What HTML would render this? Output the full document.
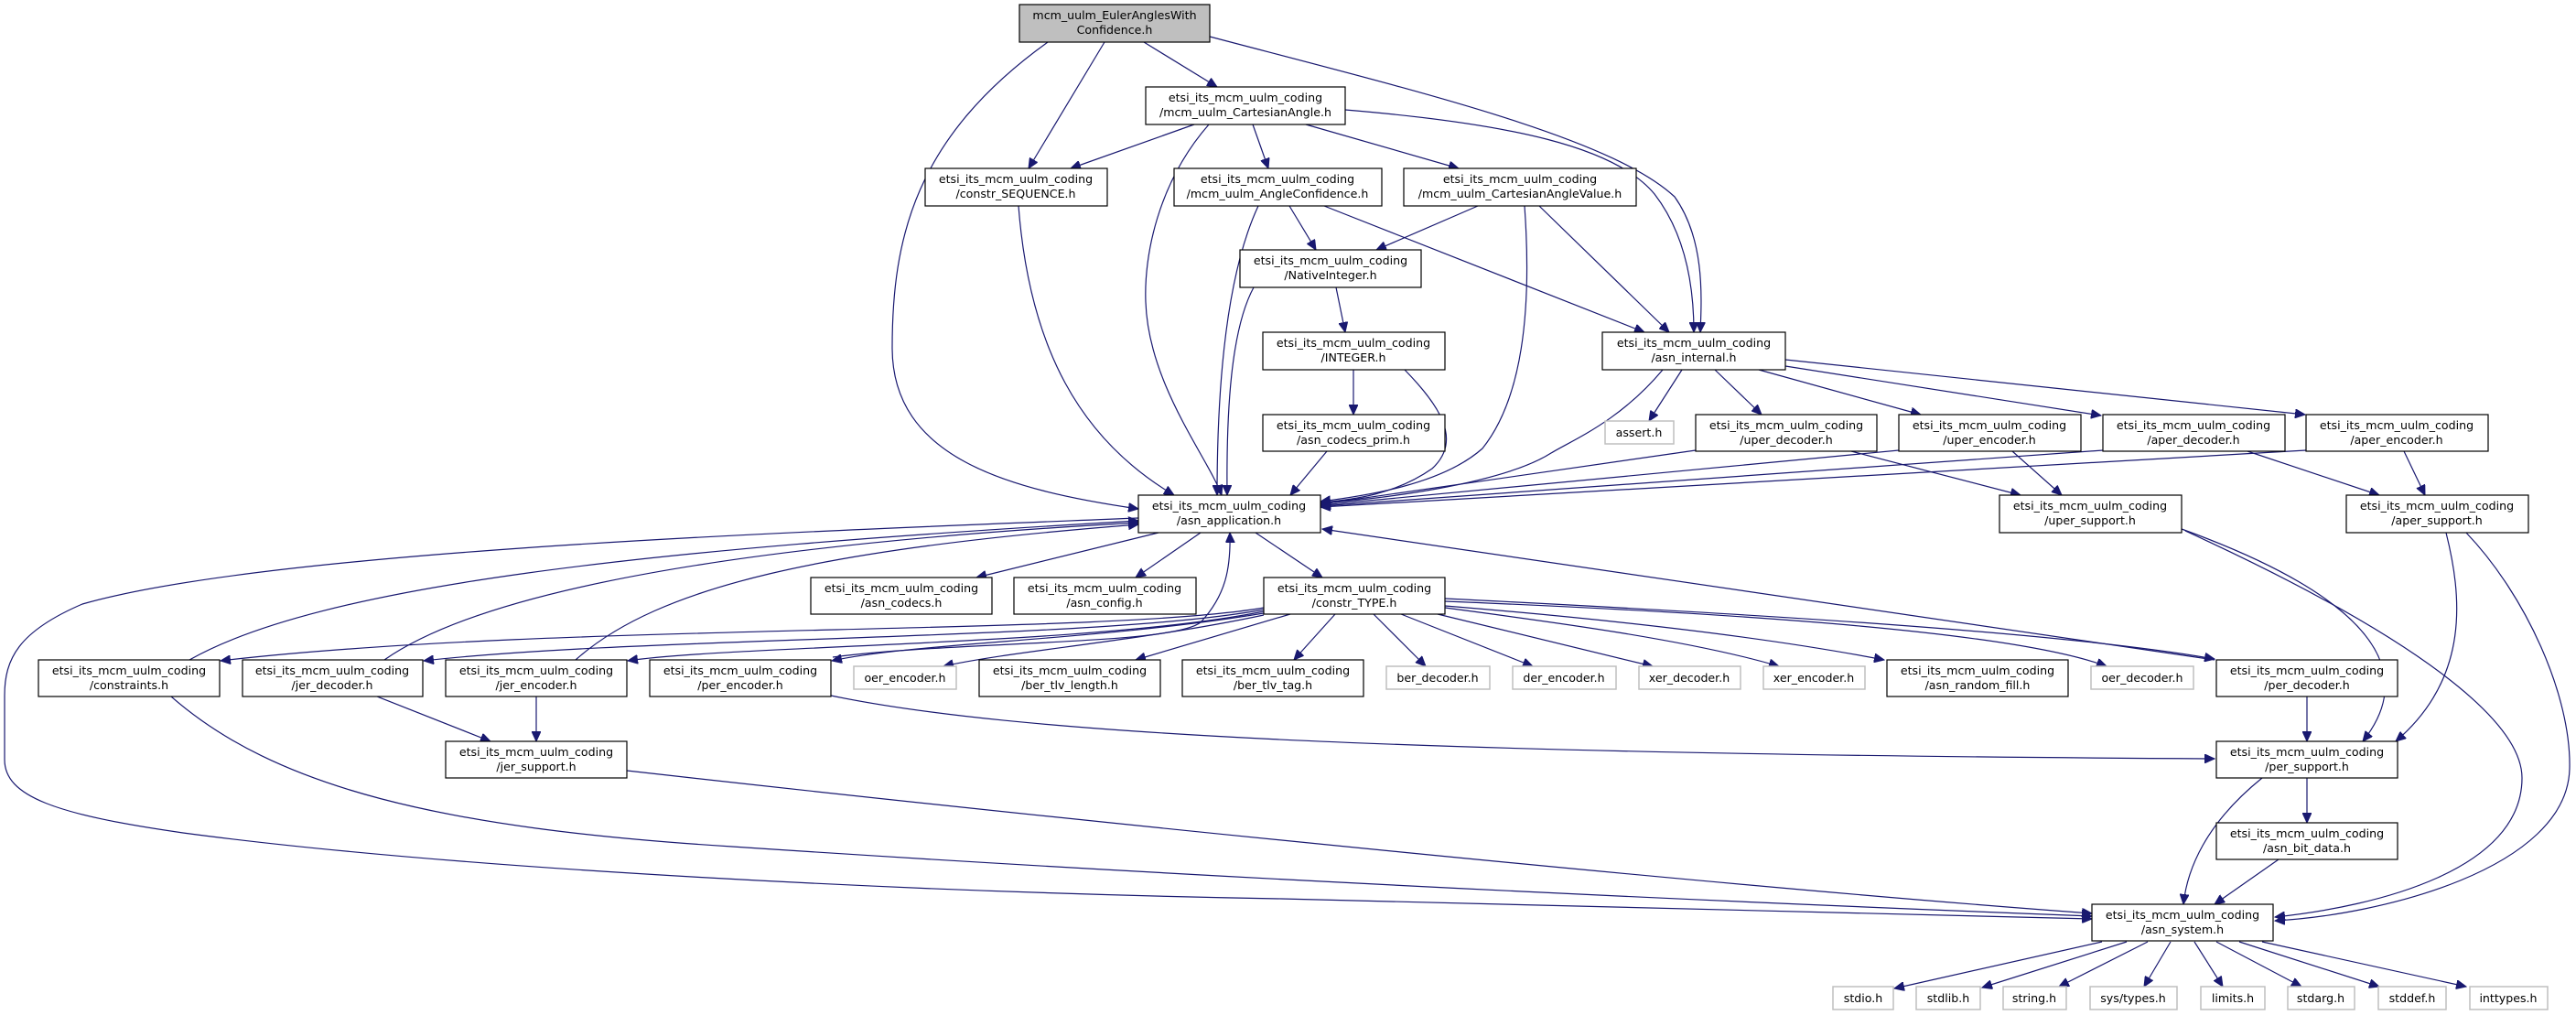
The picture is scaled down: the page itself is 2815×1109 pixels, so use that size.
<!DOCTYPE html>
<html><head><meta charset="utf-8"><style>
html,body{margin:0;padding:0;background:#fff;}
svg{display:block;}
text{font-family:"DejaVu Sans","Liberation Sans",sans-serif;font-size:12.6px;fill:#000;text-anchor:middle;}
.n{fill:#fff;stroke:#000;stroke-width:1.2;}
.g{fill:#fff;stroke:#bfbfbf;stroke-width:1.5;}
.e{fill:none;stroke:#191970;stroke-width:1.2;marker-end:url(#a);}
</style></head><body>
<svg width="2815" height="1109" viewBox="0 0 2815 1109" xmlns="http://www.w3.org/2000/svg">
<defs><marker id="a" markerUnits="userSpaceOnUse" markerWidth="12" markerHeight="10" refX="11" refY="5" orient="auto"><path d="M0,0 L11,5 L0,10 z" fill="#191970" stroke="#191970"/></marker></defs>

<g>
<path class="e" d="M1145,46 C1000,150 975,260 975,380 C975,500 1100,535 1244,556"/>
<path class="e" d="M1207,46 L1124,184"/>
<path class="e" d="M1250,46 L1330,95"/>
<path class="e" d="M1322,40 C1550,100 1760,150 1830,215 C1862,260 1860,320 1858,363"/>
<path class="e" d="M1305,136 L1170,184"/>
<path class="e" d="M1321,136 C1265,200 1250,280 1252,330 C1255,420 1320,500 1335,541"/>
<path class="e" d="M1369,136 L1386,184"/>
<path class="e" d="M1427,136 L1594,184"/>
<path class="e" d="M1470,120 C1650,135 1765,160 1808,212 C1845,260 1851,320 1851,363"/>
<path class="e" d="M1113,225 C1125,380 1180,480 1283,541"/>
<path class="e" d="M1375,225 C1340,300 1330,420 1330,541"/>
<path class="e" d="M1409,225 L1438,273"/>
<path class="e" d="M1447,225 L1797,363"/>
<path class="e" d="M1615,225 L1504,273"/>
<path class="e" d="M1666,225 C1675,350 1660,440 1620,490 C1575,530 1490,542 1443,548"/>
<path class="e" d="M1682,225 L1824,363"/>
<path class="e" d="M1370,314 C1345,360 1340,450 1341,541"/>
<path class="e" d="M1460,314 L1470,363"/>
<path class="e" d="M1479,404 L1479,453"/>
<path class="e" d="M1535,404 C1570,440 1600,480 1565,512 C1525,540 1480,546 1443,549"/>
<path class="e" d="M1450,493 L1410,541"/>
<path class="e" d="M1817,404 C1770,460 1720,480 1695,495 C1640,530 1500,546 1443,550"/>
<path class="e" d="M1838,404 L1802,460"/>
<path class="e" d="M1874,404 L1925,453"/>
<path class="e" d="M1922,404 L2099,453"/>
<path class="e" d="M1951,400 L2296,454"/>
<path class="e" d="M1951,393 L2519,453"/>
<path class="e" d="M1853,492 L1443,551"/>
<path class="e" d="M2023,493 L2208,541"/>
<path class="e" d="M2075,492 L1443,552"/>
<path class="e" d="M2199,493 L2253,541"/>
<path class="e" d="M2298,492 L1443,553"/>
<path class="e" d="M2456,493 L2600,541"/>
<path class="e" d="M2520,492 L1443,554"/>
<path class="e" d="M2627,493 L2650,541"/>
<path class="e" d="M1266,582 L1067,631"/>
<path class="e" d="M1312,582 L1241,631"/>
<path class="e" d="M1372,582 L1445,631"/>
<path class="e" d="M1244,566 C900,580 300,600 90,660 C20,690 5,720 5,760 L5,830 C5,870 60,890 200,910 C500,950 1000,975 1400,982 C1800,990 2100,998 2286,1004"/>
<path class="e" d="M207,721 C350,640 700,600 1244,569"/>
<path class="e" d="M420,721 C550,630 900,590 1244,571"/>
<path class="e" d="M629,721 C720,640 900,600 1244,573"/>
<path class="e" d="M910,718 C1050,700 1280,705 1312,680 C1340,650 1345,620 1344,582"/>
<path class="e" d="M1381,664 C1200,695 600,680 241,722"/>
<path class="e" d="M1381,666 C1200,700 700,695 463,722"/>
<path class="e" d="M1381,668 C1200,705 800,705 686,722"/>
<path class="e" d="M1381,670 C1200,700 1000,702 909,722"/>
<path class="e" d="M1381,672 C1250,700 1100,712 1031,728"/>
<path class="e" d="M1410,671 L1241,721"/>
<path class="e" d="M1459,671 L1414,721"/>
<path class="e" d="M1501,671 L1558,728"/>
<path class="e" d="M1531,671 L1675,728"/>
<path class="e" d="M1571,671 L1806,728"/>
<path class="e" d="M1579,664 C1700,680 1850,700 1944,728"/>
<path class="e" d="M1579,662 C1800,680 1950,700 2059,721"/>
<path class="e" d="M1579,657 C1900,670 2200,690 2302,728"/>
<path class="e" d="M1579,654 C1900,670 2250,690 2420,720"/>
<path class="e" d="M2420,721 L1445,578"/>
<path class="e" d="M2521,761 L2521,810"/>
<path class="e" d="M908,760 C1100,800 1500,824 2420,829"/>
<path class="e" d="M2384,578 C2500,620 2670,700 2582,810"/>
<path class="e" d="M2388,580 C2650,700 2756,790 2756,850 C2756,950 2600,990 2486,1002"/>
<path class="e" d="M2673,582 C2690,650 2700,740 2618,810"/>
<path class="e" d="M2695,582 C2760,650 2810,760 2808,840 C2805,950 2600,1000 2486,1006"/>
<path class="e" d="M2521,850 L2521,899"/>
<path class="e" d="M2472,850 C2410,900 2390,950 2386,988"/>
<path class="e" d="M2490,939 L2420,988"/>
<path class="e" d="M685,842 C1200,900 1900,970 2286,998"/>
<path class="e" d="M187,761 C300,860 480,905 800,925 C1400,965 2000,990 2286,1001"/>
<path class="e" d="M412,761 L536,810"/>
<path class="e" d="M586,761 L586,810"/>
<path class="e" d="M2297,1029 L2070,1080"/>
<path class="e" d="M2324,1029 L2166,1079"/>
<path class="e" d="M2347,1029 L2250,1078"/>
<path class="e" d="M2372,1029 L2343,1078"/>
<path class="e" d="M2398,1029 L2429,1078"/>
<path class="e" d="M2422,1029 L2515,1078"/>
<path class="e" d="M2447,1029 L2600,1078"/>
<path class="e" d="M2472,1029 L2695,1078"/>
</g>

<g>
<rect x="1114" y="5" width="208" height="41" fill="#bfbfbf" stroke="#000" stroke-width="1.2"/>
<text x="1218" y="21">mcm_uulm_EulerAnglesWith</text><text x="1218" y="37">Confidence.h</text>

<rect class="n" x="1252" y="95" width="218" height="41"/><text x="1361" y="111">etsi_its_mcm_uulm_coding</text><text x="1361" y="127">/mcm_uulm_CartesianAngle.h</text>
<rect class="n" x="1011" y="184" width="199" height="41"/><text x="1110" y="200">etsi_its_mcm_uulm_coding</text><text x="1110" y="216">/constr_SEQUENCE.h</text>
<rect class="n" x="1283" y="184" width="227" height="41"/><text x="1396" y="200">etsi_its_mcm_uulm_coding</text><text x="1396" y="216">/mcm_uulm_AngleConfidence.h</text>
<rect class="n" x="1534" y="184" width="254" height="41"/><text x="1661" y="200">etsi_its_mcm_uulm_coding</text><text x="1661" y="216">/mcm_uulm_CartesianAngleValue.h</text>
<rect class="n" x="1355" y="273" width="198" height="41"/><text x="1454" y="289">etsi_its_mcm_uulm_coding</text><text x="1454" y="305">/NativeInteger.h</text>
<rect class="n" x="1380" y="363" width="199" height="41"/><text x="1479" y="379">etsi_its_mcm_uulm_coding</text><text x="1479" y="395">/INTEGER.h</text>
<rect class="n" x="1751" y="363" width="200" height="41"/><text x="1851" y="379">etsi_its_mcm_uulm_coding</text><text x="1851" y="395">/asn_internal.h</text>
<rect class="n" x="1380" y="453" width="199" height="40"/><text x="1479" y="469">etsi_its_mcm_uulm_coding</text><text x="1479" y="485">/asn_codecs_prim.h</text>
<rect class="g" x="1754" y="460" width="75" height="25"/><text x="1791" y="477">assert.h</text>
<rect class="n" x="1853" y="453" width="198" height="40"/><text x="1952" y="469">etsi_its_mcm_uulm_coding</text><text x="1952" y="485">/uper_decoder.h</text>
<rect class="n" x="2075" y="453" width="199" height="40"/><text x="2174" y="469">etsi_its_mcm_uulm_coding</text><text x="2174" y="485">/uper_encoder.h</text>
<rect class="n" x="2298" y="453" width="199" height="40"/><text x="2397" y="469">etsi_its_mcm_uulm_coding</text><text x="2397" y="485">/aper_decoder.h</text>
<rect class="n" x="2520" y="453" width="199" height="40"/><text x="2619" y="469">etsi_its_mcm_uulm_coding</text><text x="2619" y="485">/aper_encoder.h</text>
<rect class="n" x="1244" y="541" width="199" height="41"/><text x="1343" y="557">etsi_its_mcm_uulm_coding</text><text x="1343" y="573">/asn_application.h</text>
<rect class="n" x="2185" y="541" width="199" height="41"/><text x="2284" y="557">etsi_its_mcm_uulm_coding</text><text x="2284" y="573">/uper_support.h</text>
<rect class="n" x="2564" y="541" width="199" height="41"/><text x="2663" y="557">etsi_its_mcm_uulm_coding</text><text x="2663" y="573">/aper_support.h</text>
<rect class="n" x="886" y="631" width="198" height="40"/><text x="985" y="647">etsi_its_mcm_uulm_coding</text><text x="985" y="663">/asn_codecs.h</text>
<rect class="n" x="1108" y="631" width="199" height="40"/><text x="1207" y="647">etsi_its_mcm_uulm_coding</text><text x="1207" y="663">/asn_config.h</text>
<rect class="n" x="1381" y="631" width="198" height="40"/><text x="1480" y="647">etsi_its_mcm_uulm_coding</text><text x="1480" y="663">/constr_TYPE.h</text>
<rect class="n" x="42" y="721" width="198" height="40"/><text x="141" y="737">etsi_its_mcm_uulm_coding</text><text x="141" y="753">/constraints.h</text>
<rect class="n" x="265" y="721" width="197" height="40"/><text x="363" y="737">etsi_its_mcm_uulm_coding</text><text x="363" y="753">/jer_decoder.h</text>
<rect class="n" x="487" y="721" width="198" height="40"/><text x="586" y="737">etsi_its_mcm_uulm_coding</text><text x="586" y="753">/jer_encoder.h</text>
<rect class="n" x="710" y="721" width="198" height="40"/><text x="809" y="737">etsi_its_mcm_uulm_coding</text><text x="809" y="753">/per_encoder.h</text>
<rect class="g" x="933" y="728" width="112" height="25"/><text x="989" y="745">oer_encoder.h</text>
<rect class="n" x="1070" y="721" width="198" height="40"/><text x="1169" y="737">etsi_its_mcm_uulm_coding</text><text x="1169" y="753">/ber_tlv_length.h</text>
<rect class="n" x="1292" y="721" width="198" height="40"/><text x="1391" y="737">etsi_its_mcm_uulm_coding</text><text x="1391" y="753">/ber_tlv_tag.h</text>
<rect class="g" x="1515" y="728" width="113" height="25"/><text x="1571" y="745">ber_decoder.h</text>
<rect class="g" x="1653" y="728" width="113" height="25"/><text x="1709" y="745">der_encoder.h</text>
<rect class="g" x="1791" y="728" width="111" height="25"/><text x="1846" y="745">xer_decoder.h</text>
<rect class="g" x="1927" y="728" width="111" height="25"/><text x="1982" y="745">xer_encoder.h</text>
<rect class="n" x="2062" y="721" width="198" height="40"/><text x="2161" y="737">etsi_its_mcm_uulm_coding</text><text x="2161" y="753">/asn_random_fill.h</text>
<rect class="g" x="2285" y="728" width="112" height="25"/><text x="2341" y="745">oer_decoder.h</text>
<rect class="n" x="2422" y="721" width="198" height="40"/><text x="2521" y="737">etsi_its_mcm_uulm_coding</text><text x="2521" y="753">/per_decoder.h</text>
<rect class="n" x="487" y="810" width="198" height="40"/><text x="586" y="826">etsi_its_mcm_uulm_coding</text><text x="586" y="842">/jer_support.h</text>
<rect class="n" x="2422" y="810" width="198" height="40"/><text x="2521" y="826">etsi_its_mcm_uulm_coding</text><text x="2521" y="842">/per_support.h</text>
<rect class="n" x="2422" y="899" width="198" height="40"/><text x="2521" y="915">etsi_its_mcm_uulm_coding</text><text x="2521" y="931">/asn_bit_data.h</text>
<rect class="n" x="2286" y="988" width="198" height="40"/><text x="2385" y="1004">etsi_its_mcm_uulm_coding</text><text x="2385" y="1020">/asn_system.h</text>
<rect class="g" x="2003" y="1078" width="66" height="25"/><text x="2036" y="1095">stdio.h</text>
<rect class="g" x="2094" y="1078" width="70" height="25"/><text x="2129" y="1095">stdlib.h</text>
<rect class="g" x="2189" y="1078" width="69" height="25"/><text x="2223" y="1095">string.h</text>
<rect class="g" x="2284" y="1078" width="95" height="25"/><text x="2331" y="1095">sys/types.h</text>
<rect class="g" x="2405" y="1078" width="70" height="25"/><text x="2440" y="1095">limits.h</text>
<rect class="g" x="2500" y="1078" width="73" height="25"/><text x="2536" y="1095">stdarg.h</text>
<rect class="g" x="2599" y="1078" width="74" height="25"/><text x="2636" y="1095">stddef.h</text>
<rect class="g" x="2699" y="1078" width="85" height="25"/><text x="2741" y="1095">inttypes.h</text>
</g>
</svg>
</body></html>
